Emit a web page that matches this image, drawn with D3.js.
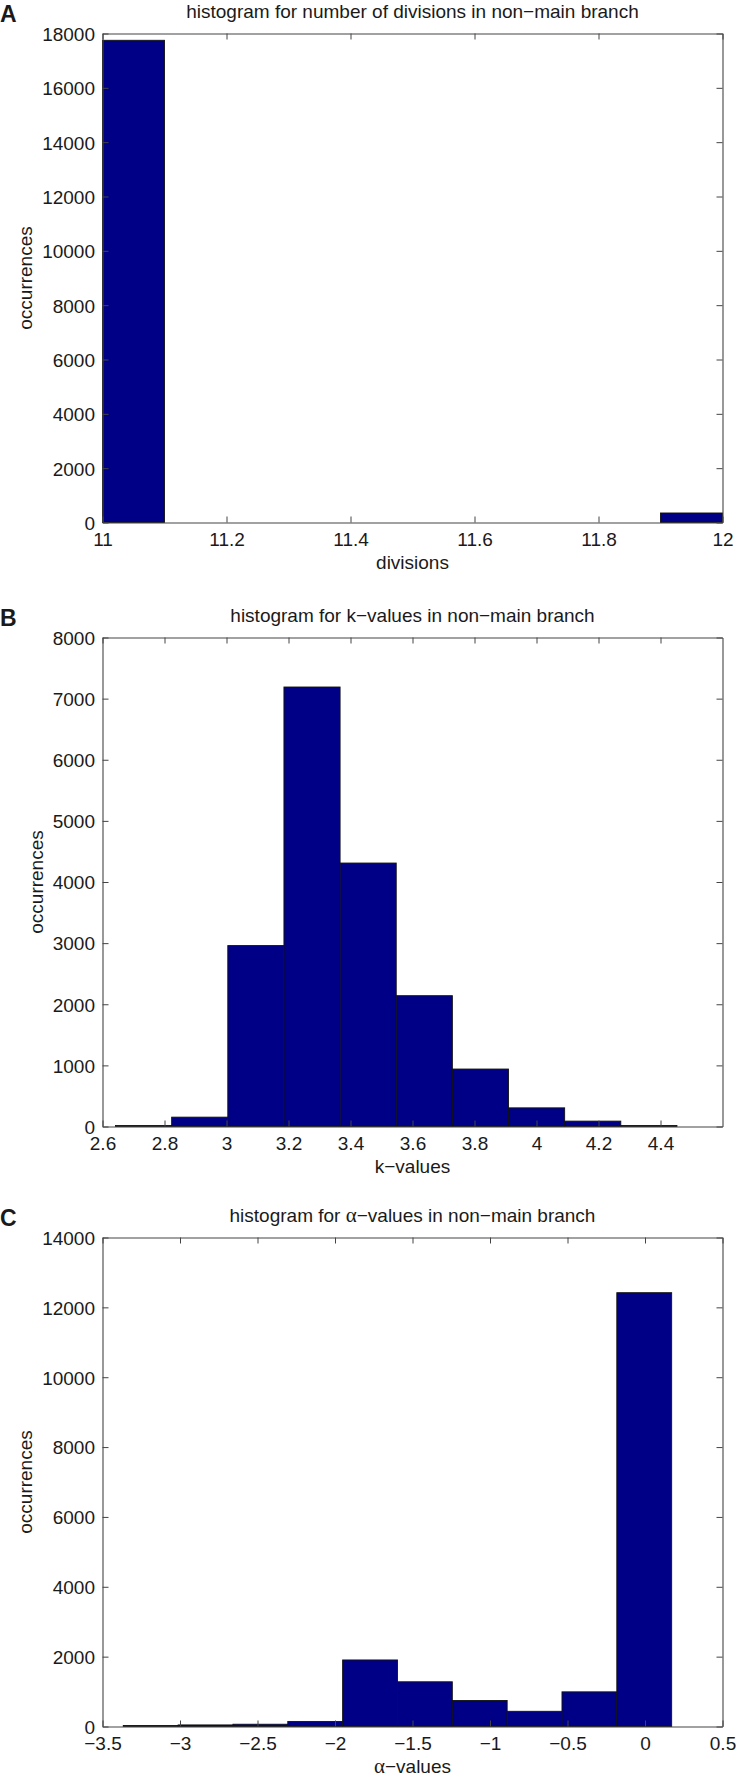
<!DOCTYPE html>
<html>
<head>
<meta charset="utf-8">
<script src="https://cdn.jsdelivr.net/npm/d3@7"></script>
<style>
  body { margin: 0; background: #fff; }
  text { font-family: "Liberation Sans", Arial, Helvetica, sans-serif; fill: #1a1a1a; }
</style>
</head>
<body>
<script>
const width = 736;
const height = 1778;

// panel A: number of divisions
const divTicks = [11, 11.2, 11.4, 11.6, 11.8, 12];
const divTickLabels = ["11", "11.2", "11.4", "11.6", "11.8", "12"];
const divBinStart = 11;
const divBinWidth = 0.1;
const divCounts = [17750, 0, 0, 0, 0, 0, 0, 0, 0, 350];
const divYTicks = [0, 2000, 4000, 6000, 8000, 10000, 12000, 14000, 16000, 18000];

// panel B: k-values
const kTicks = [2.6, 2.8, 3, 3.2, 3.4, 3.6, 3.8, 4, 4.2, 4.4];
const kTickLabels = ["2.6", "2.8", "3", "3.2", "3.4", "3.6", "3.8", "4", "4.2", "4.4"];
const kBinStart = 2.642;
const kBinWidth = 0.1811;
const kCounts = [16, 153, 2960, 7190, 4310, 2140, 940, 305, 88, 16];
const kYTicks = [0, 1000, 2000, 3000, 4000, 5000, 6000, 7000, 8000];

// panel C: alpha-values
const aTicks = [-3.5, -3, -2.5, -2, -1.5, -1, -0.5, 0, 0.5];
const aTickLabels = ["\u22123.5", "\u22123", "\u22122.5", "\u22122", "\u22121.5", "\u22121", "\u22120.5", "0", "0.5"];
const aBinStart = -3.366;
const aBinWidth = 0.3538;
const aCounts = [30, 45, 65, 145, 1905, 1280, 745, 435, 992, 12420];
const aYTicks = [0, 2000, 4000, 6000, 8000, 10000, 12000, 14000];

const panels = [
  { letter: "A", title: ["histogram for number of divisions in non\u2212main branch"], xlabel: ["divisions"],
    xDomain: [11, 12], yMax: 18000, xTicks: divTicks, xLabels: divTickLabels, yTicks: divYTicks,
    start: divBinStart, bw: divBinWidth, counts: divCounts, top: 33.5, bottom: 522.5 },
  { letter: "B", title: ["histogram for k\u2212values in non\u2212main branch"], xlabel: ["k\u2212values"],
    xDomain: [2.6, 4.6], yMax: 8000, xTicks: kTicks, xLabels: kTickLabels, yTicks: kYTicks,
    start: kBinStart, bw: kBinWidth, counts: kCounts, top: 637.5, bottom: 1126.5 },
  { letter: "C", title: ["histogram for ", "\u03b1", "\u2212values in non\u2212main branch"], xlabel: ["", "\u03b1", "\u2212values"],
    xDomain: [-3.5, 0.5], yMax: 14000, xTicks: aTicks, xLabels: aTickLabels, yTicks: aYTicks,
    start: aBinStart, bw: aBinWidth, counts: aCounts, top: 1237.5, bottom: 1726.5 }
];

const left = 102.5;
const right = 722.5;
const barColor = "#000086";
const axisColor = "#444";

const svg = d3.select("body")
  .append("svg")
  .attr("width", width)
  .attr("height", height);

// second part of a title is the greek letter, set in a serif face like matlab does
function richText(sel, parts) {
  parts.forEach((p, i) => {
    const t = sel.append("tspan").text(p);
    if (i === 1) t.style("font-family", "'Liberation Serif', 'DejaVu Serif', serif").style("font-size", "21px");
  });
}

panels.forEach(p => {
  const g = svg.append("g");
  const x = d3.scaleLinear().domain(p.xDomain).range([left, right]);
  const y = d3.scaleLinear().domain([0, p.yMax]).range([p.bottom, p.top]);

  // bars (empty bins are not drawn)
  const bins = p.counts.map((c, i) => ({ x0: p.start + i * p.bw, x1: p.start + (i + 1) * p.bw, c: c }))
    .filter(d => d.c > 0);
  g.selectAll("rect.bar")
    .data(bins)
    .enter()
    .append("rect")
    .attr("class", "bar")
    .attr("x", d => x(d.x0))
    .attr("width", d => x(d.x1) - x(d.x0))
    .attr("y", d => y(d.c))
    .attr("height", d => y(0) - y(d.c))
    .attr("fill", barColor)
    .attr("stroke", "#111")
    .attr("stroke-width", 0.9);

  // axes, ticks pointing inward on all four sides
  const bottomAxis = d3.axisBottom(x).tickValues(p.xTicks).tickSize(-6).tickSizeOuter(0)
    .tickFormat((d, i) => p.xLabels[i]);
  const topAxis = d3.axisTop(x).tickValues(p.xTicks).tickSize(-6).tickSizeOuter(0).tickFormat("");
  const leftAxis = d3.axisLeft(y).tickValues(p.yTicks).tickSize(-6).tickSizeOuter(0).tickPadding(7.5)
    .tickFormat(d3.format("d"));
  const rightAxis = d3.axisRight(y).tickValues(p.yTicks).tickSize(-6).tickSizeOuter(0).tickFormat("");

  const ax = [
    g.append("g").attr("transform", `translate(0,${p.bottom})`).call(bottomAxis),
    g.append("g").attr("transform", `translate(0,${p.top})`).call(topAxis),
    g.append("g").attr("transform", `translate(${left},0)`).call(leftAxis),
    g.append("g").attr("transform", `translate(${right},0)`).call(rightAxis)
  ];
  ax.forEach(a => {
    a.select(".domain").attr("stroke", axisColor).attr("stroke-width", 1.1);
    a.selectAll(".tick line").attr("stroke", axisColor).attr("stroke-width", 1);
    a.selectAll(".tick text").style("font-size", "19px").attr("fill", "#1a1a1a");
  });
  ax[0].selectAll(".tick text").attr("dy", 0).attr("y", 23.5);
  ax[2].selectAll(".tick text").attr("dy", "0.36em");

  let maxW = 0;
  ax[2].selectAll(".tick text").each(function() { maxW = Math.max(maxW, this.getComputedTextLength()); });

  // title
  const title = g.append("text")
    .attr("x", (left + right) / 2)
    .attr("y", p.top - 15.5)
    .attr("text-anchor", "middle")
    .style("font-size", "19px");
  richText(title, p.title);

  // x label
  const xl = g.append("text")
    .attr("x", (left + right) / 2)
    .attr("y", p.bottom + 46)
    .attr("text-anchor", "middle")
    .style("font-size", "19px");
  richText(xl, p.xlabel);

  // y label sits just left of the widest tick label
  const yx = left - 7.5 - maxW - 10;
  g.append("text")
    .attr("transform", `translate(${yx},${(p.top + p.bottom) / 2}) rotate(-90)`)
    .attr("text-anchor", "middle")
    .style("font-size", "19px")
    .text("occurrences");

  // panel letter
  g.append("text")
    .attr("x", 0)
    .attr("y", p.top - 12)
    .style("font-size", "23px")
    .style("font-weight", "bold")
    .attr("fill", "#000")
    .text(p.letter);
});
</script>
</body>
</html>
